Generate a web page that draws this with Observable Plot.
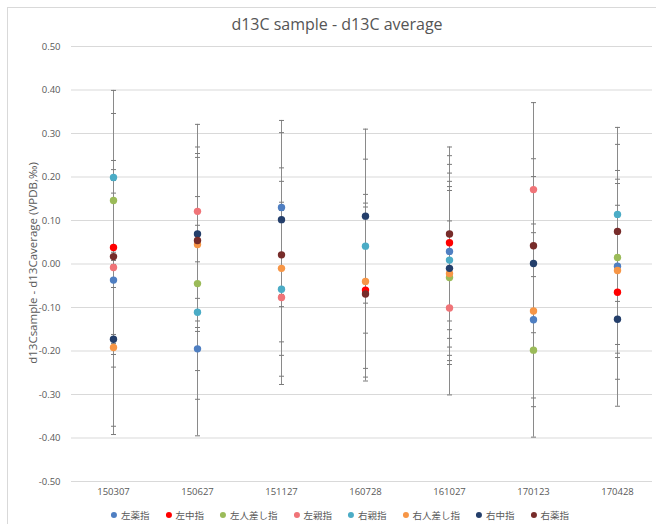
<!DOCTYPE html>
<html>
<head>
<meta charset="utf-8">
<script src="https://cdn.jsdelivr.net/npm/d3@7"></script>
<script src="https://cdn.jsdelivr.net/npm/@observablehq/plot@0.6"></script>
<style>
  html, body { margin: 0; padding: 0; background: #fff; }
  #wrap { position: relative; width: 656px; height: 524px; overflow: hidden; font-family: "Open Sans", "Noto Sans", sans-serif; color: #595959; }
  #frame { position: absolute; left: 7px; top: 7px; width: 650px; height: 530px; border: 1px solid #D9D9D9; box-sizing: border-box; }
  #title { position: absolute; top: 13px; left: 337px; transform: translateX(-50%); font-size: 16px; white-space: nowrap; color: #555555; }
  #ylabel { position: absolute; left: 32px; top: 263px; transform: translate(-50%, -50%) rotate(-90deg); font-size: 11.5px; white-space: nowrap; color: #595959; }
  #chart { position: absolute; left: 0; top: 0; }
  #legend { position: absolute; top: 508px; left: 340px; transform: translateX(-50%); display: flex; gap: 16px; white-space: nowrap; font-family: "Noto Sans CJK JP", sans-serif; font-size: 9.5px; color: #595959; }
  .item { display: flex; align-items: center; gap: 4px; }
  .sw { width: 6px; height: 6px; border-radius: 50%; display: inline-block; }
</style>
</head>
<body>
<div id="wrap">
  <div id="frame"></div>
  <div id="chart"></div>
  <div id="title">d13C sample - d13C average</div>
  <div id="ylabel">d13Csample - d13Caverage (VPDB,‰)</div>
  <div id="legend"></div>
</div>
<script>
// Categories (sampling dates)
const dates = ["150307", "150627", "151127", "160728", "161027", "170123", "170428"];

// Series names and colours
const seriesNames = ["左薬指", "左中指", "左人差し指", "左親指", "右親指", "右人差し指", "右中指", "右薬指"];
const seriesColors = ["#4F7FC2", "#FF0000", "#9BBB59", "#F07478", "#4BACC6", "#F79646", "#243F6B", "#772C2A"];

// Values per series (one per date; null = not shown)
const leftRing    = [-0.037, -0.195,  0.130,  null,   0.029, -0.128, -0.005];
const leftMiddle  = [ 0.038,  null,   null,  -0.060,  0.049,  null,  -0.065];
const leftIndex   = [ 0.146, -0.045,  null,   null,  -0.031, -0.198,  0.015];
const leftThumb   = [-0.008,  0.121, -0.077,  null,  -0.101,  0.171,  null ];
const rightThumb  = [ 0.199, -0.111, -0.058,  0.041,  0.009,  null,   0.114];
const rightIndex  = [-0.192,  0.045, -0.010, -0.040, -0.022, -0.108, -0.015];
const rightMiddle = [-0.173,  0.069,  0.102,  0.110, -0.010,  0.001, -0.127];
const rightRing   = [ 0.017,  0.054,  0.021, -0.069,  0.069,  0.042,  0.075];

// Error bar half-width per date
const errors = [0.20, 0.20, 0.20, 0.20, 0.20, 0.20, 0.20];

// Y tick values
const yTicks = [-0.5, -0.4, -0.3, -0.2, -0.1, 0, 0.1, 0.2, 0.3, 0.4, 0.5];

const seriesValues = [leftRing, leftMiddle, leftIndex, leftThumb, rightThumb, rightIndex, rightMiddle, rightRing];

const rows = [];
seriesValues.forEach((vals, si) => {
  vals.forEach((v, di) => {
    if (v !== null) rows.push({series: seriesNames[si], date: dates[di], value: v, err: errors[di]});
  });
});

// horizontal cap symbol for error bars
const capSymbol = {
  draw(context, size) {
    const r = Math.sqrt(size / Math.PI);
    context.moveTo(-r, 0);
    context.lineTo(r, 0);
  }
};

const chart = Plot.plot({
  width: 656,
  height: 524,
  marginLeft: 71,
  marginRight: 4,
  marginTop: 46,
  marginBottom: 43,
  style: {fontFamily: "'Open Sans', sans-serif", color: "#595959", background: "transparent"},
  x: {type: "point", domain: dates, range: [113, 617], padding: 0, label: null},
  y: {domain: [-0.5, 0.5], label: null},
  color: {type: "ordinal", domain: seriesNames, range: seriesColors},
  marks: [
    Plot.ruleY(yTicks, {stroke: "#D9D9D9", strokeWidth: 1}),
    Plot.axisY(yTicks, {tickSize: 0, tickPadding: 11, fontSize: 9.5, fill: "#595959", tickFormat: d => d.toFixed(2), label: null}),
    Plot.axisX({tickSize: 0, tickPadding: 7, fontSize: 9.5, fill: "#595959", label: null}),
    Plot.ruleX(rows, {x: "date", y1: d => d.value - d.err, y2: d => d.value + d.err, stroke: "#8A8A8A", strokeWidth: 1}),
    Plot.dot(rows, {x: "date", y: d => d.value + d.err, symbol: capSymbol, r: 2.5, stroke: "#7A7A7A", strokeWidth: 1, fill: "none"}),
    Plot.dot(rows, {x: "date", y: d => d.value - d.err, symbol: capSymbol, r: 2.5, stroke: "#7A7A7A", strokeWidth: 1, fill: "none"}),
    Plot.dot(rows, {x: "date", y: "value", fill: "series", r: 3.7, stroke: null})
  ]
});
document.getElementById("chart").appendChild(chart);

const legend = document.getElementById("legend");
seriesNames.forEach((name, i) => {
  const item = document.createElement("div");
  item.className = "item";
  const sw = document.createElement("span");
  sw.className = "sw";
  sw.style.background = seriesColors[i];
  const t = document.createElement("span");
  t.textContent = name;
  item.appendChild(sw);
  item.appendChild(t);
  legend.appendChild(item);
});
</script>
</body>
</html>
